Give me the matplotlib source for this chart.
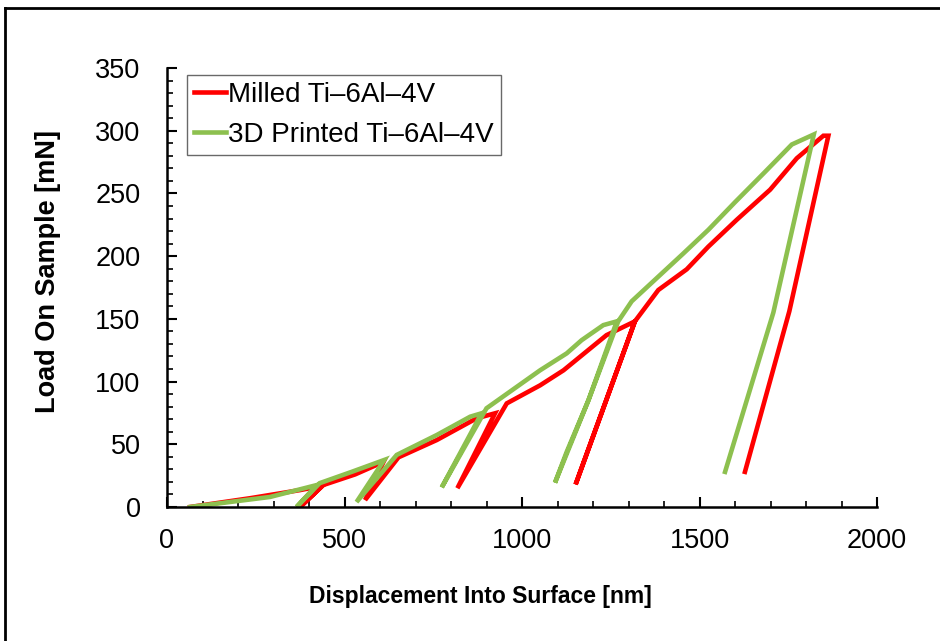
import matplotlib
matplotlib.use("Agg")
import matplotlib.pyplot as plt
from matplotlib.ticker import MultipleLocator
from matplotlib.lines import Line2D

plt.rcParams['font.family'] = ['Liberation Sans', 'DejaVu Sans']

# Milled Ti-6Al-4V: load/unload cycles (displacement nm, load mN)
milled_disp = [65, 234, 375, 422, 440, 375, 440, 530, 610, 558, 652, 760, 872, 924,
               818, 957, 1051, 1117, 1238, 1318, 1151, 1318, 1384, 1464, 1525, 1605,
               1699, 1774, 1849, 1863, 1753, 1628]
milled_load = [0, 7, 13.5, 16, 17.5, 0, 17.5, 26, 36, 5.6, 39.6, 53.4, 70.7, 74.7,
               15, 82.6, 97, 109, 137, 148, 18, 148, 173, 189.5, 207.6, 229,
               253, 278, 296, 296, 156, 28]

# 3D printed Ti-6Al-4V
printed_disp = [65, 290, 422, 365, 430, 520, 612, 534, 647, 760, 854, 886, 774, 900,
                1051, 1126, 1168, 1229, 1267, 1187, 1126, 1093, 1187, 1271, 1309,
                1454, 1525, 1600, 1684, 1760, 1822, 1708, 1572]
printed_load = [0, 8, 17.5, 0, 19, 28, 37.5, 4, 41.5, 57.4, 72, 74.7, 15.7, 78.7,
                109, 122.5, 133, 145, 148, 85, 44, 19.4, 85, 148, 164,
                202, 221, 243, 267, 289, 297, 155, 28]

red = '#FF0000'
green = '#8DC04F'

fig = plt.figure(figsize=(9.4, 6.41), dpi=100)
ax = fig.add_axes([167 / 940, 1 - 507 / 641, 710 / 940, 439 / 641])

ax.plot(milled_disp, milled_load, color=red, lw=3.3, solid_joinstyle='miter')
ax.plot(printed_disp, printed_load, color=green, lw=3.3, solid_joinstyle='miter')

ax.set_xlim(0, 2000)
ax.set_ylim(0, 350)
ax.xaxis.set_major_locator(MultipleLocator(500))
ax.xaxis.set_minor_locator(MultipleLocator(100))
ax.yaxis.set_major_locator(MultipleLocator(50))
ax.yaxis.set_minor_locator(MultipleLocator(10))
ax.tick_params(which='major', direction='in', length=7, width=1.5, labelsize=19.5)
ax.tick_params(which='minor', direction='in', length=4, width=1.2)
ax.tick_params(axis='y', which='major', pad=19)
ax.tick_params(axis='x', which='major', pad=15)

for s in ['top', 'right']:
    ax.spines[s].set_visible(False)
for s in ['left', 'bottom']:
    ax.spines[s].set_linewidth(1.8)

ax.set_xlabel('Displacement Into Surface [nm]', fontsize=16.5, fontweight='bold')
ax.xaxis.set_label_coords(0.442, -0.178)
ax.set_ylabel('Load On Sample [mN]', fontsize=19.5, fontweight='bold')
ax.yaxis.set_label_coords(-0.149, 0.536)

handles = [Line2D([], [], color=red, lw=3.3), Line2D([], [], color=green, lw=3.3)]
leg = ax.legend(handles, ['Milled Ti\u20136Al\u20134V', '3D Printed Ti\u20136Al\u20134V'],
                loc='upper left', bbox_to_anchor=((187 - 167) / 710, (507 - 75) / 439),
                fontsize=20, frameon=True, fancybox=False, edgecolor='#444444',
                handlelength=1.15, handletextpad=0.08, borderpad=0.25,
                labelspacing=0.5, borderaxespad=0)
leg.get_frame().set_linewidth(1.0)

# outer frame of the figure (left and top edges visible)
fig.add_artist(Line2D([5 / 940, 5 / 940], [0, 1 - 8 / 641], transform=fig.transFigure,
                      color='black', lw=2))
fig.add_artist(Line2D([5 / 940, 1], [1 - 8 / 641, 1 - 8 / 641], transform=fig.transFigure,
                      color='black', lw=2))

fig.savefig('out.png', dpi=100)
